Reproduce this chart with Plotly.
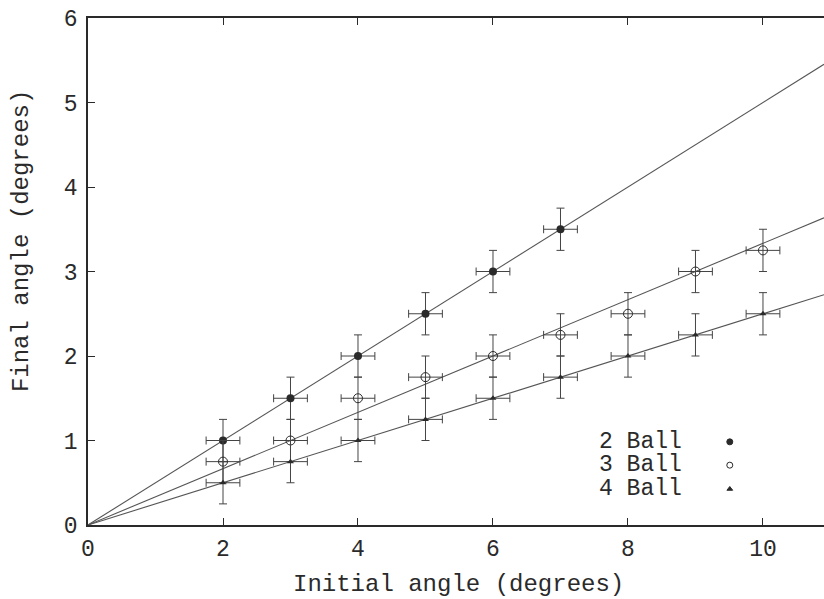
import plotly.graph_objects as go

# ---- data ----
x2 = [2, 3, 4, 5, 6, 7]
y2 = [1.0, 1.5, 2.0, 2.5, 3.0, 3.5]
x3 = [2, 3, 4, 5, 6, 7, 8, 9, 10]
y3 = [0.75, 1.0, 1.5, 1.75, 2.0, 2.25, 2.5, 3.0, 3.25]
x4 = [2, 3, 4, 5, 6, 7, 8, 9, 10]
y4 = [0.5, 0.75, 1.0, 1.25, 1.5, 1.75, 2.0, 2.25, 2.5]
x_err = 0.25
y_err = 0.25
fit_slopes = [0.5, 1 / 3, 0.25]
series_names = ["2 Ball", "3 Ball", "4 Ball"]
x_ticks = [0, 2, 4, 6, 8, 10]
y_ticks = [0, 1, 2, 3, 4, 5, 6]
x_max = 10.904
y_max = 6
x_title = "Initial angle (degrees)"
y_title = "Final angle (degrees)"

FONT = "Liberation Mono, Courier New, monospace"
INK = "#2a2a2a"
LINE = "#555555"

fig = go.Figure()

# fit lines through origin
for s in fit_slopes:
    fig.add_trace(go.Scatter(x=[0, x_max], y=[0, s * x_max], mode="lines",
                             line=dict(color=LINE, width=1.1), showlegend=False,
                             hoverinfo="skip"))

def err(n):
    return dict(type="constant", value=n, color="#444444", thickness=1, width=4)

fig.add_trace(go.Scatter(x=x2, y=y2, mode="markers", name=series_names[0],
                         marker=dict(symbol="circle", size=8, color=INK),
                         error_x=err(x_err), error_y=err(y_err), showlegend=False))
fig.add_trace(go.Scatter(x=x3, y=y3, mode="markers", name=series_names[1],
                         marker=dict(symbol="circle-open", size=9, color=INK,
                                     line=dict(width=1, color=INK)),
                         error_x=err(x_err), error_y=err(y_err), showlegend=False))
fig.add_trace(go.Scatter(x=x4, y=y4, mode="markers", name=series_names[2],
                         marker=dict(symbol="triangle-up", size=6, color=INK),
                         error_x=err(x_err), error_y=err(y_err), showlegend=False))

# custom legend (text left, symbol right) in paper-like overlay axes
leg_rows = [0.164, 0.118, 0.071]
leg_sym_x = 0.872
leg_txt_x = 0.6916
leg_symbols = ["circle", "circle-open", "triangle-up"]
leg_sizes = [6, 6, 5]
for name, row, sym, sz in zip(series_names, leg_rows, leg_symbols, leg_sizes):
    fig.add_trace(go.Scatter(x=[leg_sym_x], y=[row], xaxis="x2", yaxis="y2",
                             mode="markers",
                             marker=dict(symbol=sym, size=sz, color=INK,
                                         line=dict(width=1, color=INK)),
                             showlegend=False, hoverinfo="skip"))
    fig.add_annotation(x=leg_txt_x, y=row, xref="paper", yref="paper",
                       text=name, showarrow=False, xanchor="left", yanchor="middle",
                       font=dict(family=FONT, size=23, color=INK))

# axis titles
fig.add_annotation(x=0.503, y=-0.118, xref="paper", yref="paper", text=x_title,
                   showarrow=False, xanchor="center", yanchor="middle",
                   font=dict(family=FONT, size=24, color=INK))
fig.add_annotation(x=-0.091, y=0.56, xref="paper", yref="paper", text=y_title,
                   showarrow=False, xanchor="center", yanchor="middle", textangle=-90,
                   font=dict(family=FONT, size=24, color=INK))

fig.update_layout(
    width=824, height=599,
    margin=dict(l=88, r=0, t=18, b=74),
    paper_bgcolor="white", plot_bgcolor="white",
    font=dict(family=FONT, size=23, color=INK),
    showlegend=False,
    xaxis=dict(range=[0, x_max], tickvals=x_ticks, ticks="inside", ticklen=7,
               tickcolor=INK, showline=True, linecolor=INK, linewidth=1.5,
               mirror="ticks", showgrid=False, zeroline=False,
               ticklabelstandoff=2, automargin=False,
               tickfont=dict(family=FONT, size=23, color=INK)),
    yaxis=dict(range=[0, y_max], tickvals=y_ticks, ticks="inside", ticklen=7,
               tickcolor=INK, showline=True, linecolor=INK, linewidth=1.5,
               showgrid=False, zeroline=False, ticklabelstandoff=4,
               automargin=False,
               tickfont=dict(family=FONT, size=23, color=INK)),
    xaxis2=dict(range=[0, 1], overlaying="x", visible=False),
    yaxis2=dict(range=[0, 1], overlaying="y", visible=False),
)

fig.write_html("out.html", config={"displayModeBar": False},
               post_script="document.body.style.margin='0';document.body.style.overflow='hidden';")
